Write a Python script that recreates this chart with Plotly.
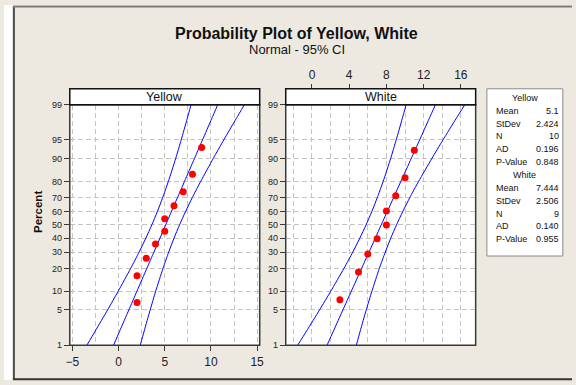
import plotly.graph_objects as go
from statistics import NormalDist

W, H = 576, 385
_nd = NormalDist()


def z(p):
    """Probability-scale transform: percent -> standard normal quantile."""
    return _nd.inv_cdf(p / 100.0)


def px(x):
    return x / W


def py(y):
    return 1 - y / H


# ---------------- data ----------------
yellow_x = [2, 2, 3, 4, 5, 5, 6, 7, 8, 9]
yellow_pct = [6.7, 16.3, 25.9, 35.6, 45.2, 54.8, 64.4, 74.0, 83.7, 93.3]
white_x = [3, 5, 6, 7, 8, 8, 9, 10, 11]
white_pct = [7.4, 18.1, 28.7, 39.4, 50.0, 60.6, 71.3, 81.9, 92.6]

ci_pct = [1, 2, 5, 10, 20, 30, 40, 50, 60, 70, 80, 90, 95, 98, 99]
yellow_fit = [-0.54, 0.12, 1.11, 1.99, 3.06, 3.83, 4.49, 5.10, 5.71, 6.37, 7.14, 8.21, 9.09, 10.08, 10.74]
yellow_lo = [-3.43, -2.53, -1.19, -0.04, 1.31, 2.23, 2.96, 3.60, 4.19, 4.77, 5.39, 6.18, 6.78, 7.43, 7.85]
yellow_hi = [2.35, 2.77, 3.42, 4.02, 4.81, 5.43, 6.01, 6.60, 7.24, 7.97, 8.89, 10.24, 11.39, 12.73, 13.63]
white_fit = [1.62, 2.30, 3.32, 4.23, 5.33, 6.13, 6.81, 7.44, 8.08, 8.76, 9.55, 10.66, 11.57, 12.59, 13.27]
white_lo = [-1.54, -0.59, 0.81, 2.02, 3.43, 4.39, 5.15, 5.81, 6.42, 7.01, 7.65, 8.45, 9.05, 9.70, 10.12]
white_hi = [4.77, 5.18, 5.83, 6.44, 7.24, 7.88, 8.47, 9.08, 9.74, 10.50, 11.46, 12.87, 14.08, 15.48, 16.43]

pct_ticks = [1, 5, 10, 20, 30, 40, 50, 60, 70, 80, 90, 95, 99]

panel_names = ["Yellow", "White"]
stat_labels = ["Mean", "StDev", "N", "AD", "P-Value"]
yellow_stats = ["5.1", "2.424", "10", "0.196", "0.848"]
white_stats = ["7.444", "2.506", "9", "0.140", "0.955"]

# ---------------- style ----------------
FONT = "Liberation Sans"
BG = "#EDE9E0"
GRID = "#C4C4C4"
FRAME = "#3A3A3A"
BLUE = "#0000FF"
RED = "#FF0000"

ci_z = [z(p) for p in ci_pct]

fig = go.Figure()


def add_panel(xs, pcts, fit, lo, hi, xa, ya):
    for arr in (lo, fit, hi):
        fig.add_trace(go.Scatter(
            x=arr, y=ci_z, mode="lines", line=dict(color=BLUE, width=1, shape="spline", smoothing=0.6),
            xaxis=xa, yaxis=ya, hoverinfo="skip", showlegend=False))
    fig.add_trace(go.Scatter(
        x=xs, y=[z(p) for p in pcts], mode="markers",
        marker=dict(color=RED, size=7, line=dict(width=0)),
        xaxis=xa, yaxis=ya, showlegend=False))


add_panel(yellow_x, yellow_pct, yellow_fit, yellow_lo, yellow_hi, "x", "y")
add_panel(white_x, white_pct, white_fit, white_lo, white_hi, "x2", "y2")

# panel geometry (pixels)
P1 = (66.7, 259.3)
P2 = (285.7, 478.3)
TOP, BOT = 102.3, 349.3
HEAD_TOP = 86.0

yrange = [z(1), z(99)]
ytickvals = [z(p) for p in pct_ticks]
yticktext = [str(p) for p in pct_ticks]

grid_common = dict(showgrid=True, gridcolor=GRID, gridwidth=1, griddash="5px,3px",
                   zeroline=False, showline=False)

yaxis_common = dict(
    range=yrange, tickvals=ytickvals, ticktext=yticktext, ticks="outside",
    ticklen=5, tickwidth=1, tickcolor=FRAME, tickfont=dict(family=FONT, size=9, color="#222"),
    domain=[py(BOT), py(TOP)], **grid_common)

fig.update_layout(
    width=W, height=H,
    margin=dict(l=0, r=0, t=0, b=0),
    paper_bgcolor=BG, plot_bgcolor="white",
    font=dict(family=FONT, color="#111"),
    showlegend=False,
    xaxis=dict(domain=[px(P1[0]), px(P1[1])], range=[-5.28, 15.28], tick0=0, dtick=5,
               ticks="outside", ticklen=5, tickwidth=1, tickcolor=FRAME,
               tickfont=dict(family=FONT, size=12, color="#222"), anchor="y",
               minor=dict(dtick=2.5, showgrid=True, gridcolor=GRID, griddash="5px,3px"),
               **grid_common),
    yaxis=dict(anchor="x", **yaxis_common),
    xaxis2=dict(domain=[px(P2[0]), px(P2[1])], range=[-2.82, 17.59], tick0=0, dtick=4,
                side="top", anchor="free", position=py(HEAD_TOP),
                ticks="outside", ticklen=5, tickwidth=1, tickcolor=FRAME,
                tickfont=dict(family=FONT, size=12, color="#222"),
                minor=dict(dtick=2, showgrid=True, gridcolor=GRID, griddash="5px,3px"),
                **grid_common),
    yaxis2=dict(anchor="x2", **yaxis_common),
)

shapes = []
# white margin outside the outer frame
shapes.append(dict(type="rect", xref="paper", yref="paper", x0=0, x1=px(9), y0=0, y1=1,
                   fillcolor="white", line=dict(width=0), layer="above"))
shapes.append(dict(type="rect", xref="paper", yref="paper", x0=0, x1=1, y0=py(1), y1=1,
                   fillcolor="white", line=dict(width=0), layer="above"))
# outer frame lines
shapes.append(dict(type="line", xref="paper", yref="paper", x0=px(10), x1=px(10), y0=py(384), y1=py(1.5),
                   line=dict(color="#4A4A4A", width=2)))
shapes.append(dict(type="line", xref="paper", yref="paper", x0=px(9), x1=1, y0=py(1.5), y1=py(1.5),
                   line=dict(color="#7A7A7A", width=2)))
shapes.append(dict(type="line", xref="paper", yref="paper", x0=px(9), x1=1, y0=py(384.2), y1=py(384.2),
                   line=dict(color="#333333", width=2)))
# panel frames and header strips
for xr, yr in (("x", "y"), ("x2", "y2")):
    shapes.append(dict(type="rect", xref=f"{xr} domain", yref=f"{yr} domain", x0=0, x1=1, y0=0, y1=1,
                       line=dict(color=FRAME, width=1.5), fillcolor="rgba(0,0,0,0)", layer="above"))
    shapes.append(dict(type="rect", xref=f"{xr} domain", yref="paper", x0=0, x1=1,
                       y0=py(TOP), y1=py(HEAD_TOP),
                       line=dict(color="#111111", width=1.5), fillcolor="white", layer="above"))
# stats box
BOX_L, BOX_R, BOX_T, BOX_B = 489.7, 566.7, 86.0, 257.7
shapes.append(dict(type="rect", xref="paper", yref="paper", x0=px(BOX_L), x1=px(BOX_R),
                   y0=py(BOX_B), y1=py(BOX_T), fillcolor="white",
                   line=dict(color="#8A8A8A", width=1), layer="above"))
fig.update_layout(shapes=shapes)

ann = []


def text(x, y, s, size, bold=False, xanchor="center", angle=0, color="#111"):
    ann.append(dict(x=px(x), y=py(y), xref="paper", yref="paper", text=f"<b>{s}</b>" if bold else s,
                    showarrow=False, xanchor=xanchor, yanchor="middle", textangle=angle,
                    font=dict(family=FONT, size=size, color=color)))


text(297, 29, "Probability Plot of Yellow, White", 16, bold=True)
text(297, 46, "Normal - 95% CI", 13)
text(35, 213, "Percent", 11.5, bold=True, angle=-90)
text((P1[0] + P1[1]) / 2, 94.5, panel_names[0], 12.5)
text((P2[0] + P2[1]) / 2, 94.5, panel_names[1], 12.5)

row_h = 13.2
y0 = 95.3
for g, (name, vals) in enumerate(((panel_names[0], yellow_stats), (panel_names[1], white_stats))):
    base = y0 + g * 6 * row_h
    text((BOX_L + BOX_R) / 2, base, name, 9)
    for i, (lab, v) in enumerate(zip(stat_labels, vals)):
        yy = base + (i + 1) * row_h
        text(496.5, yy, lab, 9, xanchor="left")
        text(565.3, yy, v, 9, xanchor="right")

fig.update_layout(annotations=ann)

fig.write_html(
    "out.html",
    config={"displayModeBar": False},
    post_script="document.body.style.margin='0px';document.body.style.padding='0px';"
                "document.body.style.overflow='hidden';",
)
